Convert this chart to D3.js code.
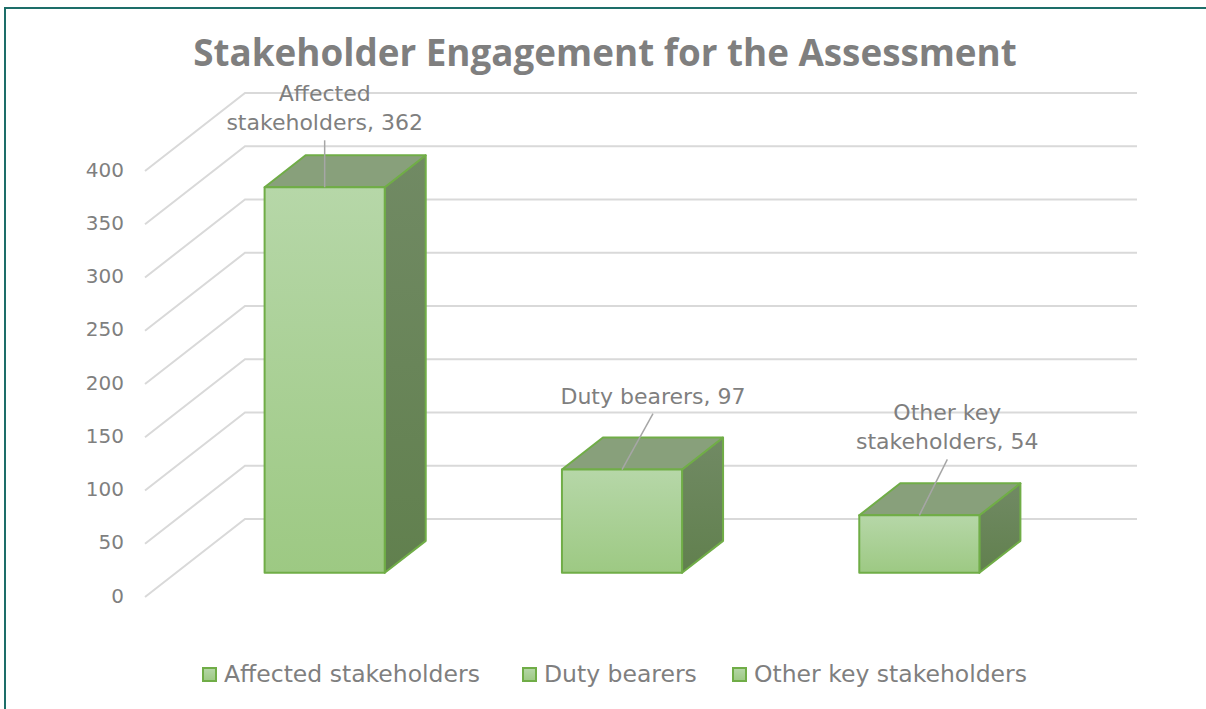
<!DOCTYPE html>
<html>
<head>
  <meta charset="utf-8">
  <script src="https://d3js.org/d3.v7.min.js"></script>
  <style>
    body { margin: 0; background: #fff; }
    text { font-family: "DejaVu Sans", sans-serif; fill: #7f7f7f; }
    .title { font-family: "Open Sans", "DejaVu Sans", sans-serif; }
  </style>
</head>
<body>
  <svg id="chart" width="1206" height="709"></svg>
  <script>
    // data
    const categories = ["Affected stakeholders", "Duty bearers", "Other key stakeholders"];
    const values = [362, 97, 54];
    const labelLines = [["Affected", "stakeholders, 362"], ["Duty bearers, 97"], ["Other key", "stakeholders, 54"]];
    const yTicks = [0, 50, 100, 150, 200, 250, 300, 350, 400];
    const title = "Stakeholder Engagement for the Assessment";

    // layout: where each data label sits relative to the bar's front-top centre
    const labelOffset = [[0, -57], [31, -66], [28, -66]];

    const svg = d3.select("#chart");

    // frame
    svg.append("rect").attr("x", 5).attr("y", 8).attr("width", 1400).attr("height", 900)
      .attr("fill", "none").attr("stroke", "#1d6e69").attr("stroke-width", 2);

    // back wall
    const x = d3.scaleBand().domain(categories).range([245, 1137])
      .paddingInner(0.596).paddingOuter(0.298);
    const y = d3.scaleLinear().domain([0, 400]).range([519, 93]);

    // oblique projection: d = 0 is back wall, d = 1 is front of floor
    const depth = [-100, 78];
    const proj = (xb, v, d) => [xb + depth[0] * d, y(v) + depth[1] * d];
    const dBack = 0.28, dFront = 0.69;

    const defs = svg.append("defs");
    const gFront = defs.append("linearGradient").attr("id", "gFront")
      .attr("x1", 0).attr("y1", 0).attr("x2", 0).attr("y2", 1);
    gFront.append("stop").attr("offset", "0%").attr("stop-color", "#b6d7a8");
    gFront.append("stop").attr("offset", "100%").attr("stop-color", "#9dc983");
    const gSide = defs.append("linearGradient").attr("id", "gSide")
      .attr("x1", 0).attr("y1", 0).attr("x2", 0).attr("y2", 1);
    gSide.append("stop").attr("offset", "0%").attr("stop-color", "#718a64");
    gSide.append("stop").attr("offset", "100%").attr("stop-color", "#61804e");

    // gridlines
    const grid = svg.append("g");
    grid.selectAll("polyline").data(yTicks).join("polyline")
      .attr("points", v => [proj(245, v, 1), proj(245, v, 0), proj(1137, v, 0)].map(p => p.join(",")).join(" "))
      .attr("fill", "none").attr("stroke", "#d9d9d9").attr("stroke-width", 2);

    grid.selectAll("text").data(yTicks).join("text")
      .attr("x", 124).attr("y", v => proj(245, v, 1)[1])
      .attr("text-anchor", "end").attr("dominant-baseline", "middle")
      .attr("font-size", 20).text(d => d);

    // bars
    const pts = arr => arr.map(p => p.join(",")).join(" ");
    const bars = svg.append("g").selectAll("g").data(categories).join("g");
    bars.each(function (c, i) {
      const g = d3.select(this);
      const x0 = x(c), x1 = x(c) + x.bandwidth(), v = values[i];
      const edge = { stroke: "#70ad47", "stroke-width": 2, "stroke-linejoin": "round" };
      const side = g.append("polygon")
        .attr("points", pts([proj(x1, v, dFront), proj(x1, v, dBack), proj(x1, 0, dBack), proj(x1, 0, dFront)]))
        .attr("fill", "url(#gSide)");
      const top = g.append("polygon")
        .attr("points", pts([proj(x0, v, dFront), proj(x1, v, dFront), proj(x1, v, dBack), proj(x0, v, dBack)]))
        .attr("fill", "#88a07b");
      const tl = proj(x0, v, dFront), br = proj(x1, 0, dFront);
      const front = g.append("rect").attr("x", tl[0]).attr("y", tl[1])
        .attr("width", br[0] - tl[0]).attr("height", br[1] - tl[1])
        .attr("fill", "url(#gFront)");
      [side, top, front].forEach(s => Object.entries(edge).forEach(([k, val]) => s.attr(k, val)));
    });

    // data labels with leader lines
    const lab = svg.append("g");
    categories.forEach((c, i) => {
      const p = proj(x(c) + x.bandwidth() / 2, values[i], dFront);
      const lx = p[0] + labelOffset[i][0], lastBase = p[1] + labelOffset[i][1];
      lab.append("line").attr("x1", lx).attr("y1", lastBase + 10).attr("x2", p[0]).attr("y2", p[1])
        .attr("stroke", "#a6a6a6").attr("stroke-width", 1.5);
      const lines = labelLines[i];
      lines.forEach((t, j) => {
        lab.append("text").attr("x", lx).attr("y", lastBase - (lines.length - 1 - j) * 29)
          .attr("text-anchor", "middle").attr("font-size", 22).text(t);
      });
    });

    // title, sized to span the same width as the original
    const tt = svg.append("text").attr("class", "title").attr("x", 605).attr("y", 66).attr("text-anchor", "middle")
      .attr("font-weight", "bold").attr("font-size", 36).text(title);
    const tw = tt.node().getComputedTextLength();
    tt.attr("font-size", 36 * 824 / tw);

    // legend
    const legendX = [203, 523, 733];
    const leg = svg.append("g").selectAll("g").data(categories).join("g")
      .attr("transform", (d, i) => `translate(${legendX[i]},668)`);
    leg.append("rect").attr("width", 13).attr("height", 13)
      .attr("fill", "url(#gFront)").attr("stroke", "#70ad47").attr("stroke-width", 2);
    leg.append("text").attr("x", 21).attr("y", 7).attr("dominant-baseline", "middle")
      .attr("font-size", 23.5).text(d => d);
  </script>
</body>
</html>
